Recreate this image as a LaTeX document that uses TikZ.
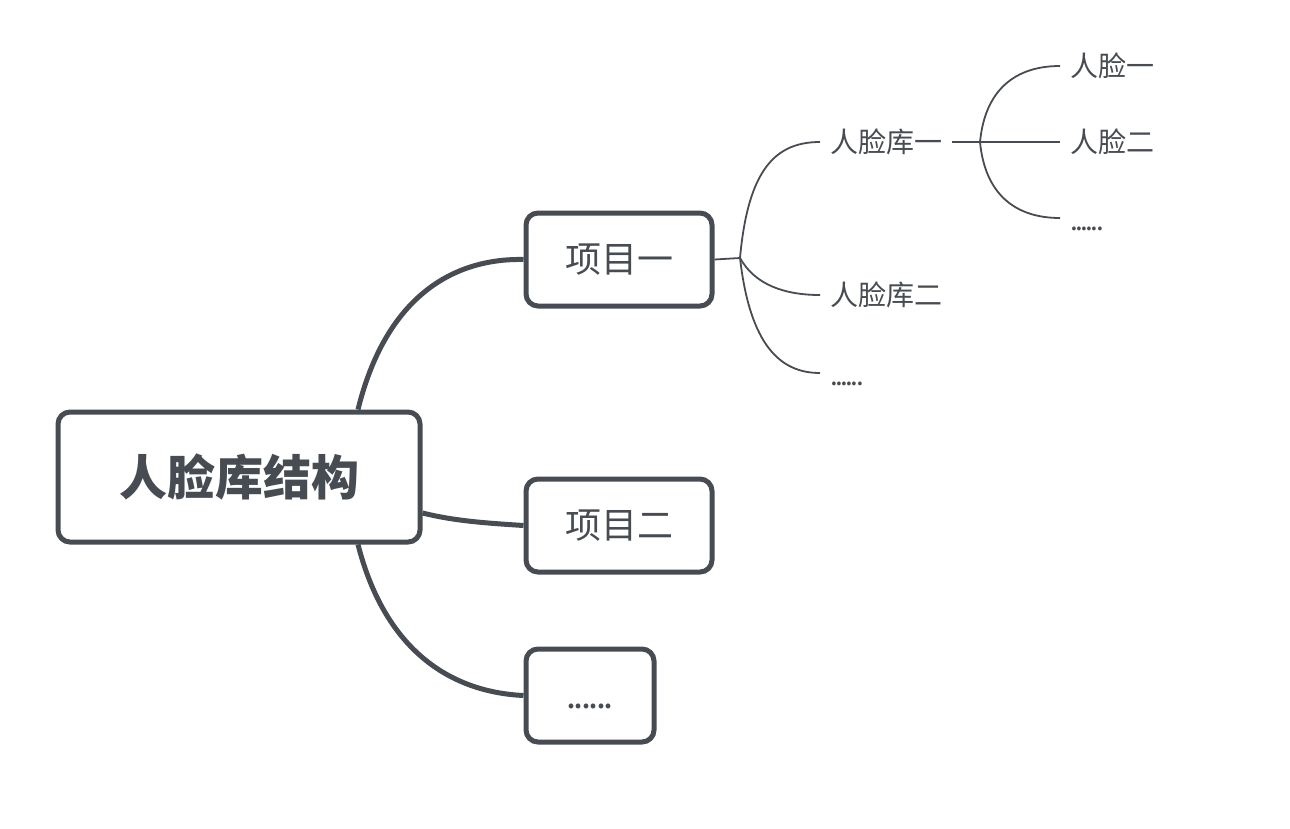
\documentclass[tikz,border=0pt]{standalone}
\usepackage{fontspec}
\setmainfont{Noto Sans CJK SC}
\definecolor{ink}{HTML}{474C53}
\newcommand\sixdots{.\kern-2.6pt.\kern-2.6pt.\kern-2.6pt.\kern-2.6pt.\kern-2.6pt.}
\begin{document}
\begin{tikzpicture}[x=1pt,y=-1pt,
  box/.style={draw=ink, line width=5pt, rounded corners=12pt, text=ink, align=center, inner sep=0pt},
  trunk/.style={draw=ink, line width=5pt},
  twig/.style={draw=ink, line width=1.8pt},
  leaf/.style={text=ink, font=\fontsize{28pt}{28pt}\selectfont, inner xsep=10pt, inner ysep=0pt, text height=23.2pt, text depth=2pt, anchor=west},
  leafdots/.style={text=ink, font=\fontsize{28pt}{28pt}\selectfont, inner xsep=10pt, inner ysep=0pt, text height=27pt, text depth=1.4pt, anchor=west}]
\useasboundingbox (0,0) rectangle (1290,828);
\fill[white] (0,0) rectangle (1290,828);
% boxes
\node[box, minimum width=362pt, minimum height=130pt, font=\fontsize{48pt}{48pt}\selectfont\bfseries] (root) at (239,477) {人脸库结构};
\node[box, minimum width=186pt, minimum height=93pt, font=\fontsize{36pt}{36pt}\selectfont] (p1) at (619,259.5) {项目一};
\node[box, minimum width=186pt, minimum height=93pt, font=\fontsize{36pt}{36pt}\selectfont] (p2) at (619,525.5) {项目二};
\node[box, minimum width=128pt, minimum height=93pt, font=\fontsize{36pt}{36pt}\selectfont, text height=26pt, text depth=0pt] (p3) at (590,695.5) {\sixdots};
% main connectors
\draw[trunk] ([xshift=119pt]root.north) .. controls (385,300) and (450,258) .. (p1.west);
\draw[trunk] ([yshift=-36pt]root.east) .. controls (455,521) and (485,523) .. (p2.west);
\draw[trunk] ([xshift=119pt]root.south) .. controls (385,650) and (450,692) .. (p3.west);
% second level
\node[leaf] (lib1) at (820,142) {人脸库一};
\node[leaf] (lib2) at (820,295) {人脸库二};
\node[leafdots] (lib3) at (820,373) {\sixdots};
\coordinate (j1) at (740,258);
\draw[twig] (p1.east) -- (j1);
\draw[twig] (j1) .. controls (748,170) and (775,142) .. (lib1.west);
\draw[twig] (j1) .. controls (755,285) and (785,295) .. (lib2.west);
\draw[twig] (j1) .. controls (750,345) and (780,373) .. (lib3.west);
% third level
\node[leaf] (f1) at (1060,66) {人脸一};
\node[leaf] (f2) at (1060,142) {人脸二};
\node[leafdots] (f3) at (1060,218) {\sixdots};
\coordinate (j2) at (980,142);
\draw[twig] (lib1.east) -- (j2);
\draw[twig] (j2) .. controls (985,90) and (1015,66) .. (f1.west);
\draw[twig] (j2) -- (f2.west);
\draw[twig] (j2) .. controls (985,194) and (1015,218) .. (f3.west);
\end{tikzpicture}
\end{document}
